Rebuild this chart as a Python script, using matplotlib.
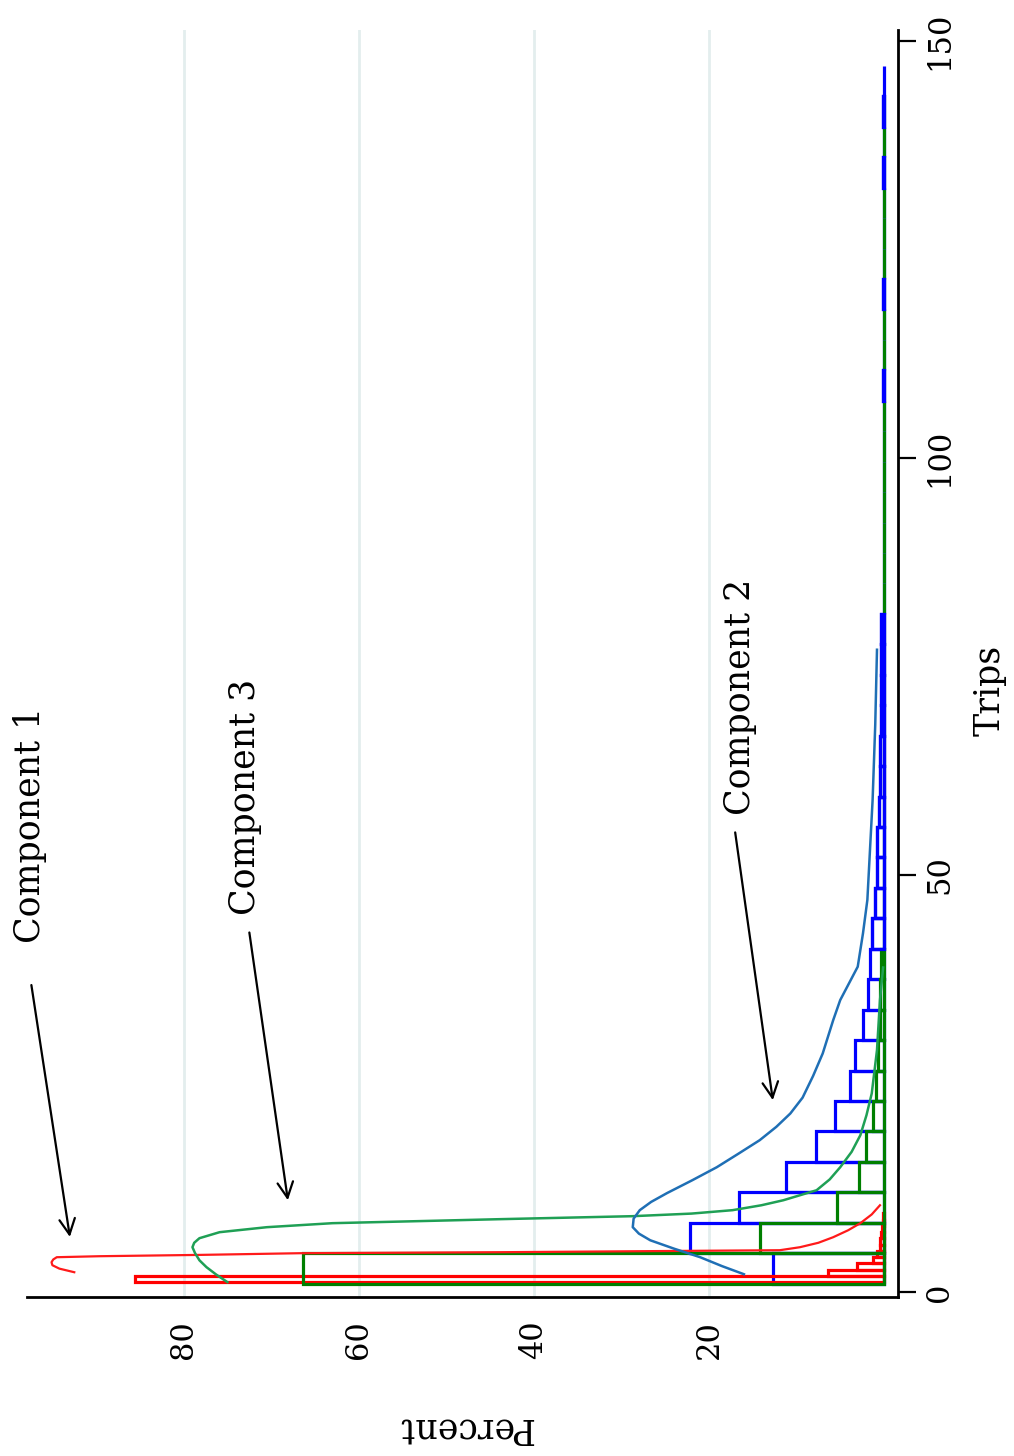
"""Three-component mixture fit on trip counts: per-component histograms with
the fitted component densities overlaid. Drawn in landscape orientation
turned on its side (Trips runs up the page, Percent runs right-to-left)."""

import matplotlib

matplotlib.use("Agg")
import matplotlib.pyplot as plt
import numpy as np

# Histogram bins (trips) shared by components 2 and 3
BIN_START = 1.0
BIN_WIDTH = 3.65

# Percent of observations per bin
COMP2_PCT = [12.7, 22.2, 16.6, 11.2, 7.8, 5.6, 3.9, 3.3, 2.4, 1.8,
             1.6, 1.4, 1.0, 0.8, 0.8, 0.6, 0.5, 0.4, 0.35, 0.3,
             0.3, 0.3, 0.0, 0.0, 0.0, 0.0, 0.0, 0.0, 0.0, 0.1,
             0.0, 0.0, 0.1, 0.0, 0.0, 0.0, 0.1, 0.0, 0.1, 0.0]
COMP3_PCT = [66.4, 14.2, 5.4, 2.9, 2.0, 1.2, 0.9, 0.7, 0.5, 0.4,
             0.3, 0.0, 0.0, 0.0, 0.0, 0.0, 0.0, 0.0, 0.0, 0.0,
             0.0, 0.0, 0.0, 0.0, 0.0, 0.0, 0.0, 0.0, 0.0, 0.0,
             0.0, 0.0, 0.0, 0.0, 0.0, 0.0, 0.0, 0.0, 0.0]

# Component 1 has its own, narrower bins
COMP1_BIN_START = 1.18
COMP1_BIN_WIDTH = 0.75
COMP1_PCT = [85.6, 6.4, 3.1, 1.2, 0.8, 0.5, 0.4, 0.3, 0.2, 0.15, 0.1]

# Fitted component densities (trips, percent)
COMP1_TRIPS = [2.37, 2.8, 3.21, 3.57, 3.9, 4.17, 4.29, 4.45, 4.65, 4.77,
               5.01, 5.37, 5.9, 6.57, 7.4, 8.25, 9.3, 10.4]
COMP1_FIT = [92.5, 94.2, 95.0, 95.1, 94.9, 94.5, 89.6, 78.0, 66.7, 43.9,
             11.9, 9.6, 7.5, 5.8, 4.1, 2.7, 1.4, 0.46]

COMP2_TRIPS = [2.13, 3.1, 4.17, 5.2, 6.2, 7.0, 7.77, 8.8, 9.81, 10.8,
               11.85, 13.4, 14.96, 16.6, 18.2, 19.8, 21.4, 23.3, 25.9,
               28.6, 32.6, 35.0, 39.0, 43.0, 47.0, 53.0, 59.0, 68.0, 77.0]
COMP2_FIT = [16.0, 18.5, 21.0, 24.0, 26.7, 28.0, 28.7, 28.6, 27.9, 26.6,
             24.8, 21.9, 19.1, 16.6, 14.2, 12.3, 10.7, 9.3, 8.1,
             7.0, 5.8, 5.0, 3.0, 2.4, 1.9, 1.6, 1.3, 1.0, 0.8]

COMP3_TRIPS = [1.18, 2.1, 2.98, 3.8, 4.65, 5.37, 5.9, 6.45, 7.17, 7.77,
               8.25, 8.5, 8.73, 9.09, 9.4, 9.81, 10.4, 11.0, 12.2, 13.5,
               14.96, 16.8, 18.8, 21.2, 23.8, 29.0, 35.0, 38.9]
COMP3_FIT = [75.0, 76.3, 77.4, 78.2, 78.7, 79.0, 78.8, 78.2, 75.9, 70.5,
             63.0, 53.0, 43.9, 28.7, 22.0, 17.3, 14.0, 11.5, 7.7, 6.2,
             5.0, 3.7, 2.7, 2.0, 1.4, 0.8, 0.46, 0.1]

# Label placement (percent, trips) for text and arrow tail / head
LABELS = ["Component 1", "Component 3", "Component 2"]
LABEL_AT = [(97.6, 56.0), (73.0, 59.3), (16.5, 71.3)]
ARROW_TAIL = [(97.4, 36.8), (72.5, 43.1), (17.0, 55.1)]
ARROW_HEAD = [(93.0, 6.6), (68.1, 11.0), (12.7, 23.0)]

PCT_TICKS = [20, 40, 60, 80]
TRIP_TICKS = [0, 50, 100, 150]

RED = "#ff0000"
GREEN = "#007f00"
BLUE = "#0000ff"
FIT_RED = "#ff1a1a"
FIT_GREEN = "#1fa055"
FIT_BLUE = "#1f6fb5"
FONT = "DejaVu Serif"


def hist_outline(ax, start, width, pct, color, zorder, mask=None):
    pct = np.asarray(pct)
    lo = start + width * np.arange(len(pct))
    keep = np.ones(len(pct), bool) if mask is None else mask
    ax.barh(lo[keep], pct[keep], height=width, align="edge", left=0,
            fill=False, edgecolor=color, linewidth=2.3, zorder=zorder)


fig = plt.figure(figsize=(10.14, 14.56), dpi=100)
ax = fig.add_axes([27 / 1014, 1 - 1297 / 1456, 871 / 1014, 1267 / 1456])

ax.set_xlim(97.9, -1.6)
ax.set_ylim(-0.6, 151.3)

for v in PCT_TICKS:
    ax.axvline(v, color="#e3eeee", linewidth=2.0, zorder=0)

hist_outline(ax, BIN_START, BIN_WIDTH, COMP2_PCT, BLUE, 2)
hist_outline(ax, COMP1_BIN_START, COMP1_BIN_WIDTH, COMP1_PCT, RED, 2.5)
hist_outline(ax, BIN_START, BIN_WIDTH, COMP3_PCT, GREEN, 3)
# lone outliers of component 2 sit above the zero-height bars of component 3
c2 = np.asarray(COMP2_PCT)
c3 = np.zeros(len(c2))
c3[:len(COMP3_PCT)] = COMP3_PCT
hist_outline(ax, BIN_START, BIN_WIDTH, COMP2_PCT, BLUE, 3.5,
             mask=(c2 > 0) & (c3 == 0))

ax.plot(COMP1_FIT, COMP1_TRIPS, color=FIT_RED, linewidth=1.6, zorder=4)
ax.plot(COMP3_FIT, COMP3_TRIPS, color=FIT_GREEN, linewidth=1.8, zorder=4)
ax.plot(COMP2_FIT, COMP2_TRIPS, color=FIT_BLUE, linewidth=1.8, zorder=4)

for text, at, tail, head in zip(LABELS, LABEL_AT, ARROW_TAIL, ARROW_HEAD):
    ax.text(*at, text, rotation=90, ha="center", va="center",
            fontsize=25, family=FONT)
    ax.annotate("", xy=head, xytext=tail,
                arrowprops=dict(arrowstyle="->", color="black", lw=1.6,
                                mutation_scale=28, shrinkA=0, shrinkB=0))

for side in ("top", "left"):
    ax.spines[side].set_visible(False)
for side in ("bottom", "right"):
    ax.spines[side].set_linewidth(2.0)

ax.set_xticks(PCT_TICKS)
ax.set_xticklabels([str(v) for v in PCT_TICKS], rotation=90,
                   fontsize=22, family=FONT)
ax.tick_params(axis="x", length=0, pad=17)

ax.yaxis.tick_right()
ax.set_yticks(TRIP_TICKS)
ax.set_yticklabels([str(v) for v in TRIP_TICKS], rotation=90,
                   va="center", fontsize=22, family=FONT)
ax.tick_params(axis="y", length=13, width=1.6, pad=6)

fig.text(990 / 1014, 1 - 690 / 1456, "Trips", rotation=90, ha="center",
         va="center", fontsize=25, family=FONT)
fig.text(465 / 1014, 1 - 1428 / 1456, "Percent", rotation=180, ha="center",
         va="center", fontsize=25, family=FONT)

fig.savefig("out.png", dpi=100)
